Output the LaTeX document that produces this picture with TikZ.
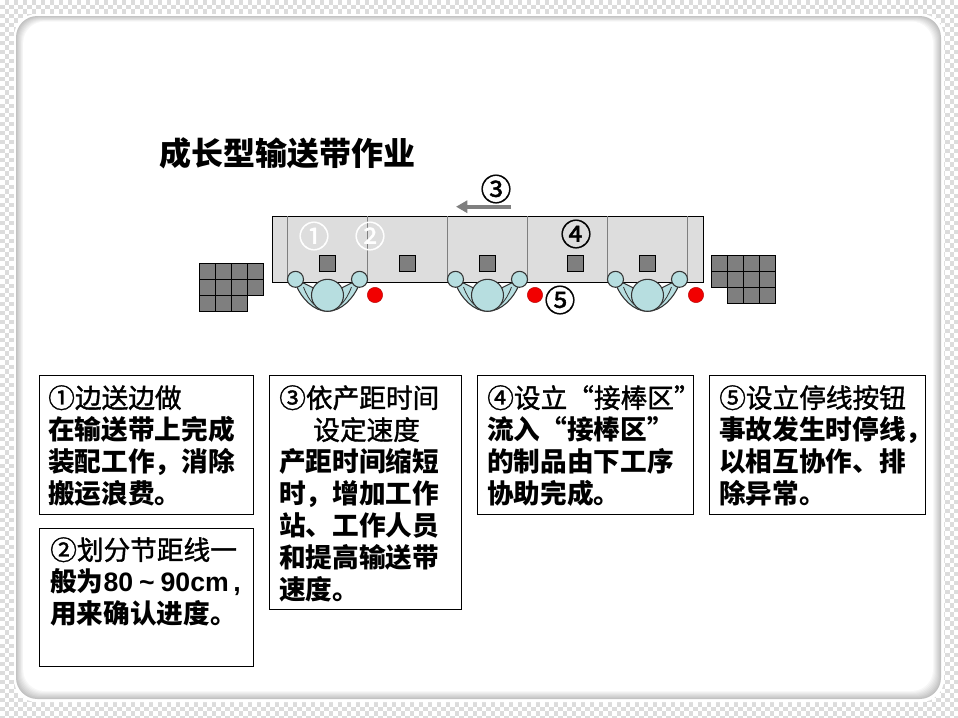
\documentclass[tikz,border=0pt]{standalone}
\usepackage{fontspec}
\setmainfont{Liberation Sans}
\newfontfamily\cjk{Noto Sans CJK SC}
\newfontfamily\cjkhead{Noto Sans CJK SC}[FakeBold=1.4]
\usepackage{xcolor}
\usetikzlibrary{arrows.meta, positioning}
\definecolor{beltgrey}{HTML}{DDDDDD}
\definecolor{partgrey}{HTML}{7F7F7F}
\definecolor{skin}{HTML}{B7DEE0}
\definecolor{checkgrey}{HTML}{DCDCDC}

\begin{document}
\begin{tikzpicture}[
  x=0.75pt, y=-0.75pt,
  belt/.style={rectangle, draw=black, fill=beltgrey, line width=0.8pt, inner sep=0pt,
               minimum width=323.5pt, minimum height=49.5pt},
  part/.style={rectangle, draw=black, fill=partgrey, line width=0.6pt, inner sep=0pt,
               minimum width=12pt, minimum height=12pt},
  hand/.style={circle, draw=black!80, fill=skin, line width=0.8pt, inner sep=0pt, minimum size=12pt},
  trunk/.style={circle, draw=black!80, fill=skin, line width=0.8pt, inner sep=0pt, minimum size=24pt},
  stopbtn/.style={circle, draw=red!70!black, fill=red!95!black, line width=0.3pt, inner sep=0pt, minimum size=11.5pt},
  marker/.style={font=\cjkhead\fontsize{23}{23}\selectfont, inner sep=0pt},
  notebox/.style={rectangle, draw=black, fill=white, line width=0.8pt, inner sep=0pt, anchor=north west},
  notetext/.style={align=left, inner sep=0pt, anchor=north west,
                   font=\cjk\fontsize{20}{24}\selectfont\bfseries},
  arrow/.style={-{Triangle[length=8.5pt,width=9pt]}, line width=3pt, partgrey}
]
  \useasboundingbox (0,0) rectangle (958,718);
  \fill[white] (0,0) rectangle (958,718);

  % checker round the card
  \foreach \j in {0,...,3,154,155,156,157,158,159}
    \foreach \i in {0,...,212} {
      \ifodd\numexpr\i+\j\relax
        \fill[checkgrey] (\i*4.5,\j*4.5) rectangle ++(4.5,4.5);
      \fi
    }
  \foreach \j in {4,...,153}
    \foreach \i in {0,1,2,3,207,208,209,210,211,212} {
      \ifodd\numexpr\i+\j\relax
        \fill[checkgrey] (\i*4.5,\j*4.5) rectangle ++(4.5,4.5);
      \fi
    }

  % card
  \fill[white, rounded corners=17pt] (14,14) rectangle (944,702);
  \foreach \n in {0,...,8} {
    \pgfmathsetmacro{\shade}{int(24-3*\n)}
    \fill[black!\shade!white, rounded corners=16pt]
      ({16+\n*0.9},{16+\n*0.7}) rectangle ({941-\n},{699-\n});
  }

  \node[anchor=west, inner sep=0pt, font=\cjk\fontsize{24}{24}\selectfont\bfseries] (title) at (159,153) {成长型输送带作业};

  % conveyor
  \node[belt, anchor=north west] (conveyor) at (272,216) {};
  \foreach \x in {287.3,367.3,447.3,527.3,607.3,687.3}
    \draw[partgrey, line width=0.8pt] (\x,216) -- (\x,282);
  \foreach \x/\n in {327.5/a,407.5/b,487.5/c,575.5/d,647.5/e}
    \node[part] (part\n) at (\x,263.5) {};

  % stock on both sides
  \foreach \c/\r in {0/0,1/0,2/0,3/0,0/1,1/1,2/1,3/1,0/2,1/2,2/2}
    \node[part] (in\c\r) at ({207.5+16*\c},{271.5+16*\r}) {};
  \foreach \c/\r in {0/0,1/0,2/0,3/0,0/1,1/1,2/1,3/1,1/2,2/2,3/2}
    \node[part] (out\c\r) at ({719.5+16*\c},{263.5+16*\r}) {};

  % operators
  \foreach \x/\n in {327.5/a,487.5/b,647.5/c} {
    \draw[draw=black!80, fill=skin, line width=0.8pt]
      (\x-31,286) .. controls (\x-26,298) and (\x-14,311.3) .. (\x,311.3)
      .. controls (\x+14,311.3) and (\x+26,298) .. (\x+31,286)
      -- (\x+24,283) -- (\x,295) -- (\x-24,283) -- cycle;
    \draw[draw=black!80, line width=0.6pt]
      (\x-24,287) .. controls (\x-21,295) and (\x-18,300) .. (\x-13,305);
    \draw[draw=black!80, line width=0.6pt]
      (\x+24,287) .. controls (\x+21,295) and (\x+18,300) .. (\x+13,305);
    \node[trunk] (trunk\n) at (\x,295.3) {};
    \node[hand] (handl\n) at (\x-32,279.3) {};
    \node[hand] (handr\n) at (\x+32,279.3) {};
  }

  \node[stopbtn] (stopa) at (375,295) {};
  \node[stopbtn] (stopb) at (535,295) {};
  \node[stopbtn] (stopc) at (696,295) {};

  \node[marker, text=white] (marka) at (314,236) {①};
  \node[marker, text=white] (markb) at (370,236) {②};
  \node[marker] (markc) at (496,189) {③};
  \node[marker] (markd) at (576,234) {④};
  \node[marker] (marke) at (560,300) {⑤};

  % line speed
  \coordinate (speedstart) at (511,206.7);
  \coordinate (speedend) at (456,206.7);
  \draw[arrow] (speedstart) -- (speedend);

  % notes
  \node[notebox, minimum width=160.5pt, minimum height=104.2pt] (notea) at (39.3,375.3) {};
  \node[notebox, minimum width=160.5pt, minimum height=104pt] (noteb) at (39.3,527.7) {};
  \node[notebox, minimum width=144pt, minimum height=175.5pt] (notec) at (269.3,375.3) {};
  \node[notebox, minimum width=162pt, minimum height=104.2pt] (noted) at (477,375.3) {};
  \node[notebox, minimum width=162pt, minimum height=104.2pt] (notee) at (709,375.3) {};

  \node[notetext] (texta) at (48,385) {{\cjkhead\mdseries ①边送边做}\\在输送带上完成\\装配工作，消除\\搬运浪费。};
  \node[notetext] (textb) at (50,537) {{\cjkhead\mdseries ②划分节距线一}\\般为{\rmfamily\bfseries 80\:\textasciitilde\:90cm\,,}\\用来确认进度。};
  \node[notetext] (textc) at (279,385) {{\cjkhead\mdseries ③依产距时间}\\\makebox[131pt]{\cjkhead\mdseries 设定速度}\\产距时间缩短\\时，增加工作\\站、工作人员\\和提高输送带\\速度。};
  \node[notetext] (textd) at (487,385) {{\cjkhead\mdseries ④设立“接棒区”}\\流入“接棒区”\\的制品由下工序\\协助完成。};
  \node[notetext] (texte) at (719,385) {{\cjkhead\mdseries ⑤设立停线按钮}\\事故发生时停线，\\以相互协作、排\\除异常。};
\end{tikzpicture}
\end{document}
